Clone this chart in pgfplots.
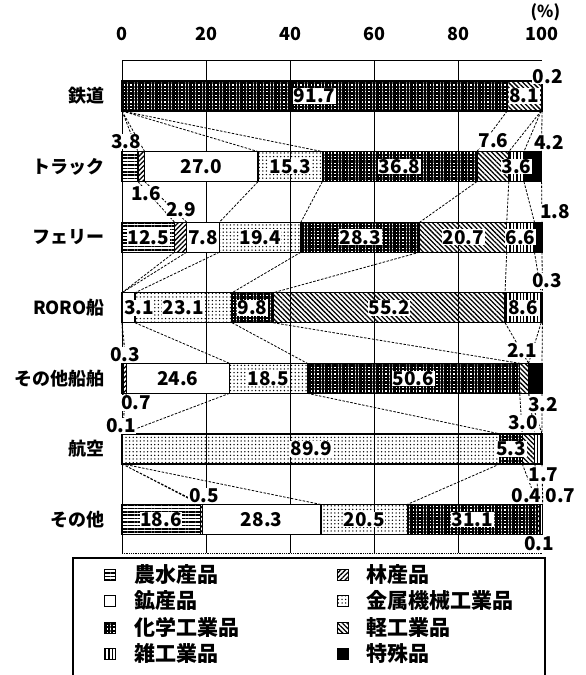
\documentclass[border=0pt]{standalone}
\usepackage{fontspec}
\setmainfont{Noto Sans CJK JP}
\usepackage{pgfplots}
\usepackage{pgfplotstable}
\pgfplotsset{compat=1.18}
\usetikzlibrary{patterns.meta}

% shares by mode (rows, top to bottom) and commodity group (columns)
\pgfplotstableread{
y agri forest mine metal chem light misc spec
0 0    0      0    0     91.7 8.1   0    0.2
1 3.8  1.6    27.0 15.3  36.8 7.6   3.6  4.2
2 12.5 2.9    7.8  19.4  28.3 20.7  6.6  1.8
3 0    0      3.1  23.1  9.8  55.2  8.6  0.3
4 0.3  0.7    24.6 18.5  50.6 2.1   0    3.2
5 0    0      0.1  89.9  5.3  3.0   1.7  0
6 18.6 0.5    28.3 20.5  31.1 0.4   0.7  0.1
}\shares

\tikzset{
  lab/.style={font=\fontsize{19}{19}\selectfont\bfseries, fill=white, inner sep=0.6pt},
  link/.style={black, line width=0.8pt, dash pattern=on 2.5pt off 1.5pt},
}
\pgfplotsset{
  seg/.style={draw=black, line width=1.2pt,
    legend image code/.code={\draw[##1, line width=0.9pt] (0pt,-5.5pt) rectangle (11pt,5.5pt);}},
  frame/.style={scale only axis, width=420pt, height=493pt,
    xmin=0, xmax=100, ymin=-0.51, ymax=6.475, y dir=reverse},
}

\begin{document}
\begin{tikzpicture}
\begin{axis}[frame,
    xbar stacked, bar width=0.425, clip=false,
    axis x line*=top, axis y line*=left,
    axis line style={-, line width=1pt},
    xtick={0,20,...,100}, xticklabel pos=upper,
    minor xtick={20,40,60,80}, xminorgrids,
    minor grid style={black, line width=0.8pt},
    major tick length=0, minor tick length=0,
    ytick={0,...,6},
    yticklabels={鉄道,トラック,フェリー,RORO船,その他船舶,航空,その他},
    /pgf/number format/assume math mode=true,
    x tick label style={font=\fontsize{18}{18}\selectfont\bfseries, inner sep=0pt, yshift=19.5pt},
    y tick label style={font=\fontsize{18}{18}\selectfont\bfseries, inner sep=0pt, xshift=-17pt},
    legend columns=2, legend cell align=left,
    legend style={draw=none, fill=none, inner sep=0pt,
      at={(axis description cs:-0.0429,-0.0223)}, anchor=north west,
      font=\fontsize{21}{21}\selectfont\bfseries, row sep=5.5pt,
      nodes={inner sep=0pt, text height=18pt, text depth=3pt},
      /tikz/every odd column/.append style={column sep=18pt},
      /tikz/every even column/.append style={column sep=98pt}},
  ]
\addplot[seg, pattern={Lines[angle=0, distance=3.4pt, line width=1.6pt]}] table[x=agri, y=y] {\shares};
\addlegendentry{農水産品}
\addplot[seg, pattern={Lines[angle=45, distance=3.4pt, line width=1.3pt]}] table[x=forest, y=y] {\shares};
\addlegendentry{林産品}
\addplot[seg, fill=white] table[x=mine, y=y] {\shares};
\addlegendentry{鉱産品}
\addplot[seg, pattern={Dots[distance=3.6pt, radius=0.75pt]}] table[x=metal, y=y] {\shares};
\addlegendentry{金属機械工業品}
\addplot[seg, pattern={Hatch[angle=0, distance=3.4pt, line width=2.2pt]}] table[x=chem, y=y] {\shares};
\addlegendentry{化学工業品}
\addplot[seg, pattern={Lines[angle=-45, distance=3.4pt, line width=1.3pt]}] table[x=light, y=y] {\shares};
\addlegendentry{軽工業品}
\addplot[seg, pattern={Lines[angle=90, distance=3.4pt, line width=1.4pt]}] table[x=misc, y=y] {\shares};
\addlegendentry{雑工業品}
\addplot[seg, fill=black] table[x=spec, y=y] {\shares};
\addlegendentry{特殊品}
\end{axis}

\begin{axis}[frame, hide axis, clip=false, unbounded coords=jump]
% dashed links between the group boundaries of neighbouring bars
\addplot[link] coordinates {(0,0.2125)(3.8,0.7875) (nan,nan) (0,0.2125)(5.4,0.7875) (nan,nan)
  (0,0.2125)(32.4,0.7875) (nan,nan) (0,0.2125)(47.7,0.7875) (nan,nan) (91.7,0.2125)(84.5,0.7875) (nan,nan)
  (99.8,0.2125)(92.1,0.7875) (nan,nan) (99.8,0.2125)(95.7,0.7875) (nan,nan) (100,0.2125)(99.9,0.7875)};
\addplot[link] coordinates {(3.8,1.2125)(12.5,1.7875) (nan,nan) (5.4,1.2125)(15.4,1.7875) (nan,nan)
  (32.4,1.2125)(23.2,1.7875) (nan,nan) (47.7,1.2125)(42.6,1.7875) (nan,nan) (84.5,1.2125)(70.9,1.7875) (nan,nan)
  (92.1,1.2125)(91.6,1.7875) (nan,nan) (95.7,1.2125)(98.2,1.7875) (nan,nan) (99.9,1.2125)(100,1.7875)};
\addplot[link] coordinates {(12.5,2.2125)(0,2.7875) (nan,nan) (15.4,2.2125)(0,2.7875) (nan,nan)
  (23.2,2.2125)(3.1,2.7875) (nan,nan) (42.6,2.2125)(26.2,2.7875) (nan,nan) (70.9,2.2125)(36.0,2.7875) (nan,nan)
  (91.6,2.2125)(91.2,2.7875) (nan,nan) (98.2,2.2125)(99.8,2.7875) (nan,nan) (100,2.2125)(100.1,2.7875)};
\addplot[link] coordinates {(0,3.2125)(0.3,3.7875) (nan,nan) (0,3.2125)(1.0,3.7875) (nan,nan)
  (3.1,3.2125)(25.6,3.7875) (nan,nan) (26.2,3.2125)(44.1,3.7875) (nan,nan) (36.0,3.2125)(94.7,3.7875) (nan,nan)
  (91.2,3.2125)(96.8,3.7875) (nan,nan) (99.8,3.2125)(96.8,3.7875) (nan,nan) (100.1,3.2125)(100,3.7875)};
\addplot[link] coordinates {(0.3,4.2125)(0,4.7875) (nan,nan) (1.0,4.2125)(0,4.7875) (nan,nan)
  (25.6,4.2125)(0.1,4.7875) (nan,nan) (44.1,4.2125)(90.0,4.7875) (nan,nan) (94.7,4.2125)(95.3,4.7875) (nan,nan)
  (96.8,4.2125)(98.3,4.7875) (nan,nan) (96.8,4.2125)(100,4.7875) (nan,nan) (100,4.2125)(100,4.7875)};
\addplot[link] coordinates {(0,5.2125)(18.6,5.7875) (nan,nan) (0,5.2125)(19.1,5.7875) (nan,nan)
  (0.1,5.2125)(47.4,5.7875) (nan,nan) (90.0,5.2125)(67.9,5.7875) (nan,nan) (95.3,5.2125)(99.0,5.7875) (nan,nan)
  (98.3,5.2125)(99.4,5.7875) (nan,nan) (100,5.2125)(100.1,5.7875) (nan,nan) (100,5.2125)(100.2,5.7875)};

\draw[black, line width=0.8pt, densely dotted] (axis description cs:0,0) -- (axis description cs:1,0);
\draw[black, line width=1.2pt] (axis description cs:-0.1167,-0.0101) rectangle (axis description cs:1.0071,-0.30);
\node[lab, fill=none, font=\fontsize{16.5}{16.5}\selectfont\bfseries] at (axis cs:100.8,-1.19) {(\%)};

% 鉄道
\node[lab] at (axis cs:45.85,0) {91.7};
\node[lab] at (axis cs:95.75,0) {8.1};
\node[lab] at (axis cs:101.4,-0.28) {0.2};
% トラック
\node[lab] at (axis cs:0.95,0.645) {3.8};
\node[lab] at (axis cs:18.9,1) {27.0};
\node[lab] at (axis cs:40.05,1) {15.3};
\node[lab] at (axis cs:66.1,1) {36.8};
\node[lab] at (axis cs:88.45,0.63) {7.6};
\node[lab] at (axis cs:93.9,1) {3.6};
\node[lab] at (axis cs:101.7,0.66) {4.2};
\node[lab] at (axis cs:5.71,1.381) {1.6};
% フェリー
\node[lab] at (axis cs:14.05,1.615) {2.9};
\node[lab] at (axis cs:6.25,2) {12.5};
\node[lab] at (axis cs:19.3,2) {7.8};
\node[lab] at (axis cs:32.9,2) {19.4};
\node[lab] at (axis cs:56.75,2) {28.3};
\node[lab] at (axis cs:81.25,2) {20.7};
\node[lab] at (axis cs:94.9,2) {6.6};
\node[lab] at (axis cs:103.1,1.64) {1.8};
% RORO船
\node[lab, anchor=west] at (axis cs:0.3,3) {3.1};
\node[lab] at (axis cs:14.65,3) {23.1};
\node[lab] at (axis cs:31.1,3) {9.8};
\node[lab] at (axis cs:63.6,3) {55.2};
\node[lab] at (axis cs:95.5,3) {8.6};
\node[lab] at (axis cs:101.2,2.62) {0.3};
% その他船舶
\node[lab] at (axis cs:0.71,3.67) {0.3};
\node[lab] at (axis cs:13.3,4) {24.6};
\node[lab] at (axis cs:34.85,4) {18.5};
\node[lab] at (axis cs:69.4,4) {50.6};
\node[lab] at (axis cs:95.24,3.606) {2.1};
\node[lab] at (axis cs:3.33,4.35) {0.7};
\node[lab] at (axis cs:100.24,4.378) {3.2};
% 航空
\node[lab] at (axis cs:-0.24,4.675) {0.1};
\node[lab] at (axis cs:45.05,5) {89.9};
\node[lab] at (axis cs:92.65,5) {5.3};
\node[lab] at (axis cs:95.48,4.633) {3.0};
\node[lab] at (axis cs:100.36,5.37) {1.7};
% その他
\node[lab] at (axis cs:19.52,5.667) {0.5};
\node[lab] at (axis cs:9.3,6) {18.6};
\node[lab] at (axis cs:33.25,6) {28.3};
\node[lab] at (axis cs:57.65,6) {20.5};
\node[lab] at (axis cs:83.45,6) {31.1};
\node[lab] at (axis cs:96.3,5.667) {0.4};
\node[lab] at (axis cs:104.4,5.667) {0.7};
\node[lab] at (axis cs:99.3,6.347) {0.1};

\coordinate (bbsw) at (axis description cs:-0.29048,-0.24746);
\coordinate (bbne) at (axis description cs:1.10476,1.12170);
\end{axis}
\pgfresetboundingbox
\path[use as bounding box] (bbsw) rectangle (bbne);
\end{tikzpicture}
\end{document}
